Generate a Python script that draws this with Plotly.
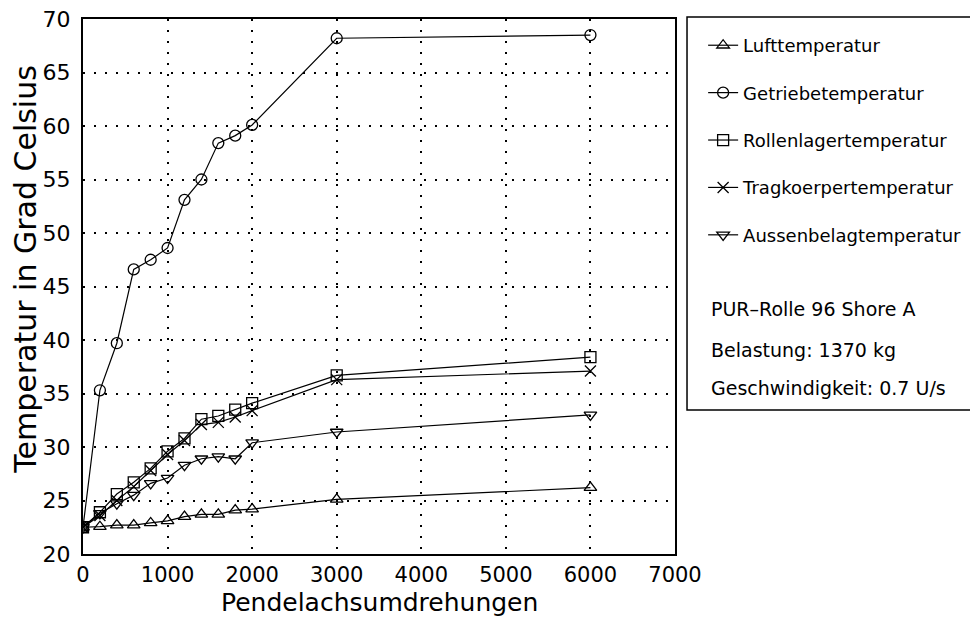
import plotly.graph_objects as go

umdrehungen = [0, 200, 400, 600, 800, 1000, 1200, 1400, 1600, 1800, 2000, 3000, 6000]
luft = [22.5, 22.55, 22.7, 22.7, 22.9, 23.1, 23.5, 23.7, 23.7, 24.1, 24.2, 25.1, 26.2]
getriebe = [22.5, 35.3, 39.7, 46.6, 47.5, 48.6, 53.1, 55.0, 58.4, 59.1, 60.1, 68.2, 68.5]
rollenlager = [22.5, 23.9, 25.6, 26.7, 28.0, 29.6, 30.8, 32.6, 32.9, 33.5, 34.1, 36.7, 38.4]
tragkoerper = [22.5, 23.6, 25.0, 26.3, 27.8, 29.3, 30.6, 32.1, 32.3, 32.8, 33.4, 36.3, 37.1]
aussenbelag = [22.5, 23.8, 24.7, 25.5, 26.6, 27.1, 28.3, 28.9, 29.1, 28.9, 30.4, 31.4, 33.0]

series_names = ["Lufttemperatur", "Getriebetemperatur", "Rollenlagertemperatur",
                "Tragkoerpertemperatur", "Aussenbelagtemperatur"]
series_values = [luft, getriebe, rollenlager, tragkoerper, aussenbelag]
symbols = ["triangle-up-open", "circle-open", "square-open", "x-thin-open", "triangle-down-open"]

x_ticks = [0, 1000, 2000, 3000, 4000, 5000, 6000, 7000]
y_ticks = [20, 25, 30, 35, 40, 45, 50, 55, 60, 65, 70]
x_title = "Pendelachsumdrehungen"
y_title = "Temperatur in Grad Celsius"
info_lines = ["PUR\u2013Rolle 96 Shore A", "Belastung: 1370 kg", "Geschwindigkeit: 0.7 U/s"]

FONT = "DejaVu Sans"

fig = go.Figure()
for i, (name, vals, sym) in enumerate(zip(series_names, series_values, symbols)):
    fig.add_trace(go.Scatter(
        x=umdrehungen, y=vals, name=name, mode="lines+markers",
        line=dict(color="black", width=1.2),
        marker=dict(symbol=sym, size=11, color="black", line=dict(color="black", width=1.3)),
        legendgroup=f"g{i}",
    ))

axis_common = dict(
    showline=True, linecolor="black", linewidth=2, mirror=True,
    showgrid=True, gridcolor="black", gridwidth=1.6, griddash="2px,9px",
    zeroline=False, ticks="", tickfont=dict(family=FONT, size=22, color="black"),
    automargin=False, ticklabeloverflow="allow",
)

fig.update_xaxes(range=[0, 7000], tickvals=x_ticks, ticktext=[str(v) for v in x_ticks],
                 ticklabelstandoff=1, tickfont=dict(family=FONT, size=21, color="black"),
                 **{k: v for k, v in axis_common.items() if k != "tickfont"})
fig.update_yaxes(range=[20, 70], tickvals=y_ticks, ticktext=[str(v) for v in y_ticks],
                 ticklabelstandoff=6, **axis_common)

# axis titles
fig.add_annotation(text=x_title, xref="paper", yref="paper", x=0.5, y=-0.091,
                   xanchor="center", yanchor="middle", showarrow=False,
                   font=dict(family=FONT, size=25, color="black"))
fig.add_annotation(text=y_title, xref="paper", yref="paper", x=-0.0965, y=0.533,
                   xanchor="center", yanchor="middle", showarrow=False, textangle=-90,
                   font=dict(family=FONT, size=30, color="black"))

# legend box
fig.add_shape(type="rect", xref="paper", yref="paper",
              x0=1.0203, x1=1.507, y0=0.269, y1=1.0037,
              line=dict(color="black", width=1.5), fillcolor="rgba(0,0,0,0)")

for txt, yp in zip(info_lines, [0.458, 0.381, 0.310]):
    fig.add_annotation(text=txt, xref="paper", yref="paper", x=1.057, y=yp,
                       xanchor="left", yanchor="middle", showarrow=False,
                       font=dict(family=FONT, size=19, color="black"))

fig.update_layout(
    width=970, height=610,
    margin=dict(l=75, r=303, t=11, b=64, autoexpand=False),
    paper_bgcolor="white", plot_bgcolor="white",
    showlegend=True,
    legend=dict(x=1.0475, y=0.985, xanchor="left", yanchor="top",
                font=dict(family=FONT, size=18, color="black"),
                bgcolor="rgba(0,0,0,0)", borderwidth=0,
                traceorder="grouped", tracegroupgap=21, itemwidth=30),
    font=dict(family=FONT, color="black"),
)

fig.write_html("out.html")
